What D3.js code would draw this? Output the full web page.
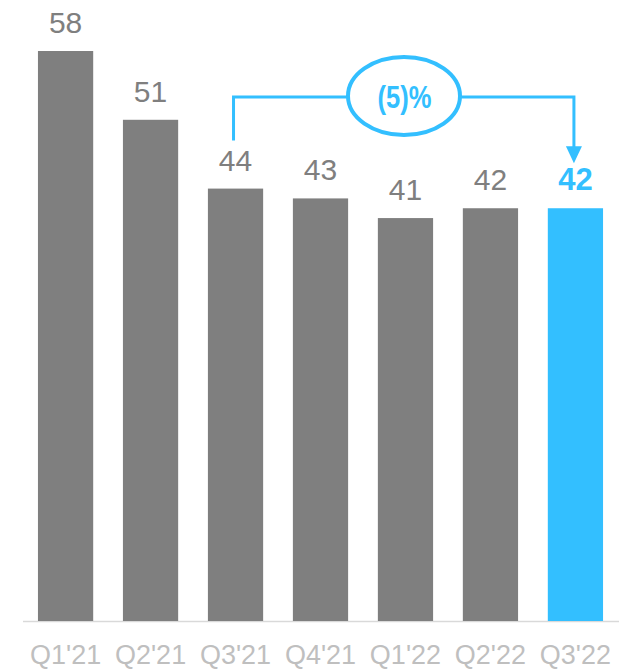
<!DOCTYPE html>
<html>
<head>
<meta charset="utf-8">
<script src="https://cdn.jsdelivr.net/npm/d3@7"></script>
<style>
  html, body { margin: 0; padding: 0; background: #fff; }
  svg { display: block; font-family: Arial, "Liberation Sans", sans-serif; }
</style>
</head>
<body>
<svg id="chart" width="630" height="671"></svg>
<script>
const categories = ["Q1'21", "Q2'21", "Q3'21", "Q4'21", "Q1'22", "Q2'22", "Q3'22"];
const values = [58, 51, 44, 43, 41, 42, 42];
const highlight = ["Q3'22"];
const changeLabel = "(5)%";
const changeFrom = "Q3'21";
const changeTo = "Q3'22";

const grey = "#7f7f7f";
const blue = "#33bfff";
const axisGrey = "#bfbfbf";

const svg = d3.select("#chart");
const baseline = 621;

const x = d3.scaleBand().domain(categories).range([23, 618]).paddingInner(0.35).paddingOuter(0.176);
const y = d3.scaleLinear().domain([0, d3.max(values)]).range([baseline, 51]);

const data = categories.map((c, i) => ({ cat: c, val: values[i], hi: highlight.includes(c) }));

// baseline axis
svg.append("line")
  .attr("x1", 23).attr("x2", 619)
  .attr("y1", baseline + 0.5).attr("y2", baseline + 0.5)
  .attr("stroke", "#d9d9d9").attr("stroke-width", 1.5);

// bars
svg.selectAll("rect.bar").data(data).enter().append("rect")
  .attr("class", "bar")
  .attr("x", d => x(d.cat))
  .attr("width", x.bandwidth())
  .attr("y", d => y(d.val))
  .attr("height", d => baseline - y(d.val))
  .attr("fill", d => d.hi ? blue : grey);

// value labels
svg.selectAll("text.val").data(data).enter().append("text")
  .attr("class", "val")
  .attr("x", d => x(d.cat) + x.bandwidth() / 2)
  .attr("y", d => y(d.val) - 18)
  .attr("text-anchor", "middle")
  .attr("font-size", d => d.hi ? 31 : 30)
  .attr("font-weight", d => d.hi ? "bold" : "normal")
  .attr("fill", d => d.hi ? blue : grey)
  .text(d => d.val);

// x axis labels
const xAxis = d3.axisBottom(x).tickSize(0).tickPadding(0);
const gx = svg.append("g").attr("transform", `translate(0,${baseline})`).call(xAxis);
gx.select(".domain").remove();
gx.selectAll("text")
  .attr("y", 43).attr("dy", 0)
  .attr("font-size", 27)
  .attr("font-family", "Arial, 'Liberation Sans', sans-serif")
  .attr("fill", axisGrey);

// annotation
const fromIdx = categories.indexOf(changeFrom);
const toIdx = categories.indexOf(changeTo);
const xFrom = x(changeFrom) + x.bandwidth() / 2 - 2;
const xTo = x(changeTo) + x.bandwidth() / 2 - 1.5;
const yTop = 97;
const yFromStart = y(values[fromIdx]) - 48;
const yArrowTip = y(values[toIdx]) - 45;
const ex = 404, ey = 96, erx = 56, ery = 39;

svg.append("path")
  .attr("d", `M${xFrom},${yFromStart} V${yTop} H${ex - erx}`)
  .attr("fill", "none").attr("stroke", blue).attr("stroke-width", 3);
svg.append("path")
  .attr("d", `M${ex + erx},${yTop} H${xTo} V${yArrowTip - 14}`)
  .attr("fill", "none").attr("stroke", blue).attr("stroke-width", 3);
svg.append("path")
  .attr("d", `M${xTo - 8},${yArrowTip - 17} L${xTo + 8},${yArrowTip - 17} L${xTo},${yArrowTip} Z`)
  .attr("fill", blue);

svg.append("ellipse")
  .attr("cx", ex).attr("cy", ey).attr("rx", erx).attr("ry", ery)
  .attr("fill", "#fff").attr("stroke", blue).attr("stroke-width", 4);
svg.append("text")
  .attr("x", ex + 0.5).attr("y", 107.5)
  .attr("text-anchor", "middle")
  .attr("font-size", 32).attr("font-weight", "bold")
  .attr("fill", blue)
  .attr("textLength", 54).attr("lengthAdjust", "spacingAndGlyphs")
  .text(changeLabel);
</script>
</body>
</html>
